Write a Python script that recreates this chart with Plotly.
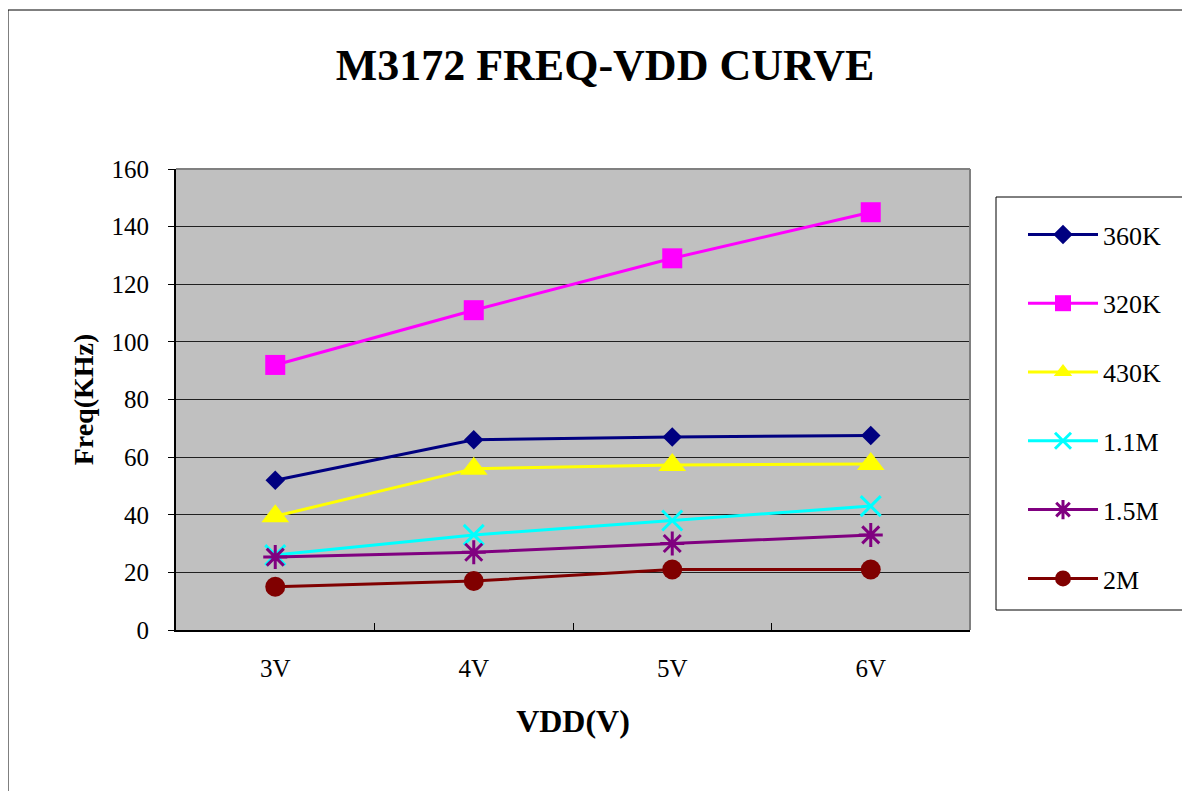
import plotly.graph_objects as go

categories = ["3V", "4V", "5V", "6V"]
series_names = ["360K", "320K", "430K", "1.1M", "1.5M", "2M"]
v_360k = [52, 66, 67, 67.5]
v_320k = [92, 111, 129, 145]
v_430k = [39.5, 56, 57.3, 57.6]
v_11m = [26, 33, 38, 43]
v_15m = [25.3, 27, 30, 33]
v_2m = [15, 17, 21, 21]
y_ticks = [0, 20, 40, 60, 80, 100, 120, 140, 160]

values = [v_360k, v_320k, v_430k, v_11m, v_15m, v_2m]
colors = ["#000080", "#FF00FF", "#FFFF00", "#00FFFF", "#800080", "#800000"]
symbols = ["diamond", "square", "triangle-up", "x-thin-open", "asterisk-open", "circle"]
sizes = [15, 20, 24, 20, 20, 20]

FONT = "Liberation Serif, Times New Roman, serif"

W, H = 1182, 783          # page has an 8px body margin
L, R, T, B = 168, 220, 161, 161
PW, PH = W - L - R, H - T - B


def px_x(x):
    return (x - L) / PW


def px_y(y):
    return (H - B - y) / PH


fig = go.Figure()
for i, (name, vals) in enumerate(zip(series_names, values)):
    sym = symbols[i]
    open_sym = sym.endswith("open")
    fig.add_trace(go.Scatter(
        x=categories, y=vals, name=name, mode="lines+markers",
        legendgroup=name,
        line=dict(color=colors[i], width=3),
        marker=dict(symbol=sym, size=sizes[i], color=colors[i],
                    line=dict(color=colors[i], width=3 if open_sym else 0)),
    ))

fig.update_layout(
    width=W, height=H,
    margin=dict(l=L, r=R, t=T, b=B),
    paper_bgcolor="white", plot_bgcolor="#C0C0C0",
    font=dict(family=FONT, color="black", size=25),
    title=dict(text="<b>M3172 FREQ-VDD CURVE</b>", x=597 / W, xanchor="center",
               y=1 - 57 / H, yanchor="middle",
               font=dict(family=FONT, size=44, color="black")),
    xaxis=dict(
        type="category", range=[-0.5, 3.5], tickson="boundaries",
        ticks="inside", ticklen=7, tickcolor="black", tickwidth=1,
        showline=True, linecolor="black", linewidth=2,
        showgrid=False, ticklabelstandoff=15,
        tickfont=dict(family=FONT, size=25),
        title=dict(text="<b>VDD(V)</b>", font=dict(family=FONT, size=32), standoff=29),
    ),
    yaxis=dict(
        range=[0, 160], tickvals=y_ticks, ticks="outside", ticklen=6,
        tickcolor="black", showline=True, linecolor="black", linewidth=2,
        showgrid=True, gridcolor="#202020", gridwidth=1, zeroline=False,
        tickfont=dict(family=FONT, size=25), ticklabelstandoff=14,
        title=dict(text="<b>Freq(KHz)</b>", font=dict(family=FONT, size=28), standoff=10),
    ),
    legend=dict(
        x=px_x(1015), y=px_y(203), xanchor="left", yanchor="top",
        bgcolor="rgba(0,0,0,0)", borderwidth=0,
        font=dict(family=FONT, size=26), tracegroupgap=32,
        itemwidth=70, itemsizing="trace",
    ),
    showlegend=True,
)

# gray top/right plot border
fig.add_shape(type="line", xref="paper", yref="paper", x0=0, x1=1, y0=1, y1=1,
              line=dict(color="#808080", width=2))
fig.add_shape(type="line", xref="paper", yref="paper", x0=1, x1=1, y0=0, y1=1,
              line=dict(color="#808080", width=2))
# legend box
fig.add_shape(type="rect", xref="paper", yref="paper",
              x0=px_x(988), x1=px_x(1200), y0=px_y(602), y1=px_y(189),
              line=dict(color="black", width=1), fillcolor="white", layer="below")
# outer chart border
fig.add_shape(type="rect", xref="paper", yref="paper",
              x0=px_x(0), x1=px_x(1200), y0=px_y(800), y1=px_y(2),
              line=dict(color="black", width=1), layer="below")

fig.write_html("out.html")
